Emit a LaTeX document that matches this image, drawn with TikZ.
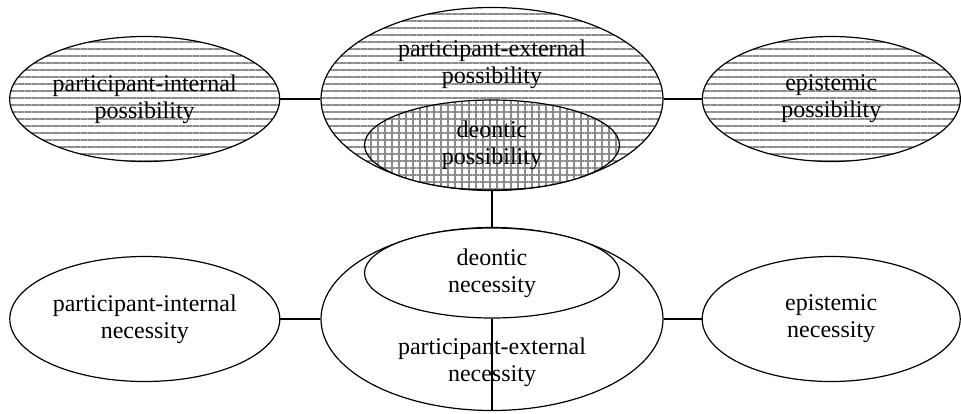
\documentclass[tikz,border=0pt]{standalone}
\usepackage{fontspec}
\setmainfont{Liberation Serif}
\usetikzlibrary{shapes.geometric, patterns.meta, positioning}
\definecolor{HatchGray}{RGB}{140,140,140}

\begin{document}
\begin{tikzpicture}[x=1pt, y=-1pt, node distance=40pt, every node/.style={font=\fontsize{24}{27}\selectfont, align=center}, oval/.style={ellipse, draw, line width=1.2pt, inner sep=0pt}, outer/.style={oval, minimum width=270pt, minimum height=125pt}, inner/.style={oval, minimum width=255pt, minimum height=90pt}, big/.style={oval, minimum width=342pt, minimum height=183pt}, hlines/.style={pattern={Lines[distance=7pt, line width=1.4pt]}, pattern color=HatchGray}, crosshatch/.style={preaction={fill=white}, pattern={Hatch[distance=7pt, line width=1.3pt]}, pattern color=HatchGray}, link/.style={line width=1.2pt}]
\useasboundingbox (0,0) rectangle (961,413);
% possibility row
\node (pep) [big, hlines] at (492,99) {};
\node (pepText) at (492,64) {participant-external\\possibility};
\node (dp) [inner, crosshatch] at (492,145) {deontic\\possibility};
\node (pip) [outer, hlines, left=of pep] {participant-internal\\possibility};
\node (ep) [outer, hlines, minimum width=258pt, right=38pt of pep] {epistemic\\possibility};
% necessity row
\node (pen) [big] at (492,319) {};
\node (dn) [inner, fill=white] at (492,273) {deontic\\necessity};
\node (penText) at (492,362) {participant-external\\necessity};
\node (pin) [outer, left=of pen] {participant-internal\\necessity};
\node (en) [outer, minimum width=258pt, right=38pt of pen] {epistemic\\necessity};

\draw [link] (pip) -- (pep);
\draw [link] (pep) -- (ep);
\draw [link] (dp) -- (pen);
\draw [link] (pin) -- (pen);
\draw [link] (pen) -- (en);
\draw [link] (dn) -- (pen.south);
\end{tikzpicture}
\end{document}
